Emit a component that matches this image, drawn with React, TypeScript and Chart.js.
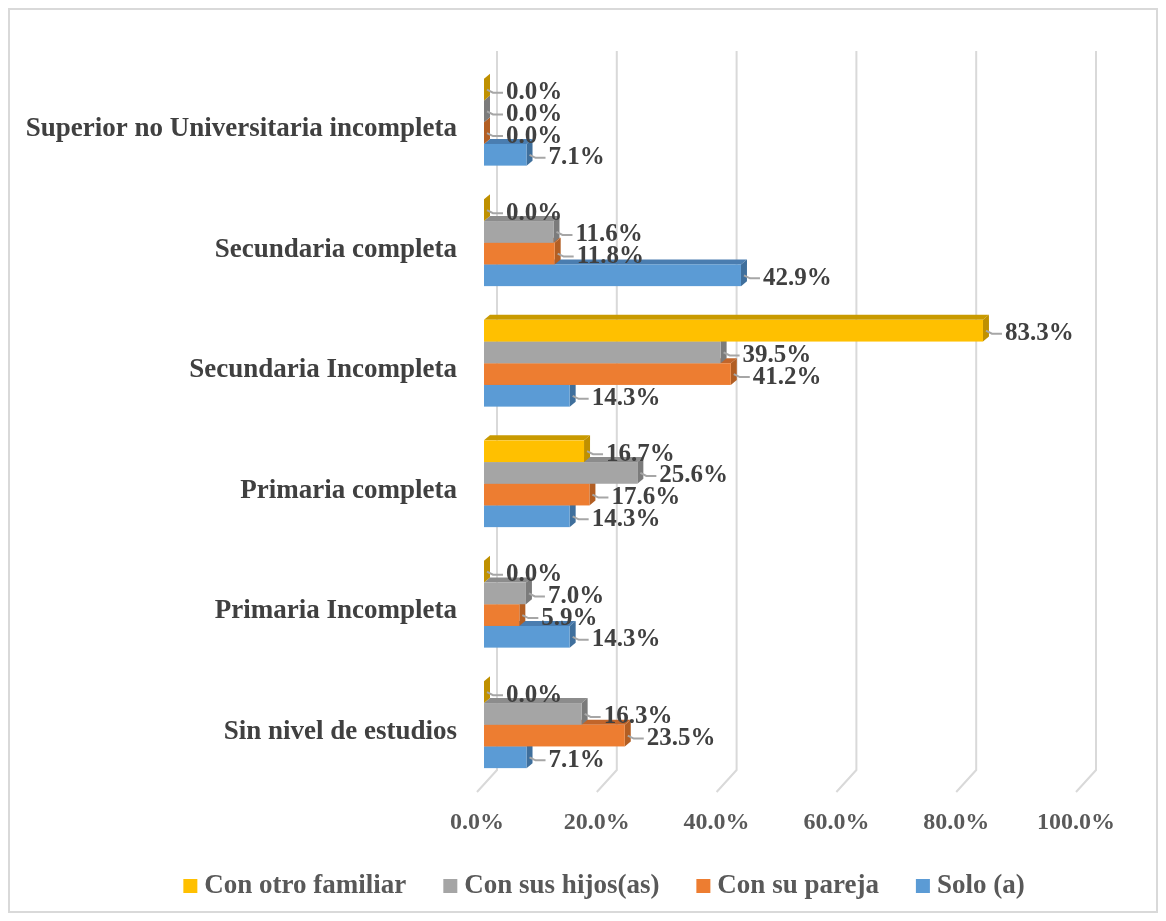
import React, { useEffect, useRef } from "react";
import { Chart, registerables } from "chart.js";

Chart.register(...registerables);

const categories = [
  "Superior no Universitaria incompleta",
  "Secundaria completa",
  "Secundaria Incompleta",
  "Primaria completa",
  "Primaria Incompleta",
  "Sin nivel de estudios",
];
const seriesNames = ["Con otro familiar", "Con sus hijos(as)", "Con su pareja", "Solo (a)"];
const otroFamiliar = [0.0, 0.0, 83.3, 16.7, 0.0, 0.0];
const hijos = [0.0, 11.6, 39.5, 25.6, 7.0, 16.3];
const pareja = [0.0, 11.8, 41.2, 17.6, 5.9, 23.5];
const solo = [7.1, 42.9, 14.3, 14.3, 14.3, 7.1];
const xTicks = [0, 20, 40, 60, 80, 100];

const frontColors = ["#FFC000", "#A5A5A5", "#ED7D31", "#5B9BD5"];
const sideColors = ["#BF9000", "#7B7B7B", "#B25E23", "#3F6F9C"];
const topColors = ["#C99A00", "#8C8C8C", "#C1652A", "#4A7DB0"];

const FONT = "'Liberation Serif', 'Times New Roman', serif";
const DX = 6;
const DY = 5;

const threeDPlugin = {
  id: "threeD",
  beforeDatasetsDraw(chart: any) {
    const ctx = chart.ctx;
    const xs = chart.scales.x;
    ctx.save();
    ctx.strokeStyle = "#d9d9d9";
    ctx.lineWidth = 2;
    for (const v of xTicks) {
      const px = xs.getPixelForValue(v);
      ctx.beginPath();
      ctx.moveTo(px + 13, 41);
      ctx.lineTo(px + 13, 760);
      ctx.lineTo(px - 7, 782);
      ctx.stroke();
    }
    ctx.restore();
  },
  afterDatasetsDraw(chart: any) {
    const ctx = chart.ctx;
    const n = chart.data.datasets.length;
    ctx.save();
    for (let i = n - 1; i >= 0; i--) {
      const meta = chart.getDatasetMeta(i);
      meta.data.forEach((el: any) => {
        const p = el.getProps(["x", "y", "base", "height"], true);
        const left = p.base;
        const right = p.x;
        const top = p.y - p.height / 2;
        const bottom = p.y + p.height / 2;
        ctx.fillStyle = topColors[i];
        ctx.beginPath();
        ctx.moveTo(left, top);
        ctx.lineTo(right, top);
        ctx.lineTo(right + DX, top - DY);
        ctx.lineTo(left + DX, top - DY);
        ctx.closePath();
        ctx.fill();
        ctx.fillStyle = sideColors[i];
        ctx.beginPath();
        ctx.moveTo(right, top);
        ctx.lineTo(right + DX, top - DY);
        ctx.lineTo(right + DX, bottom - DY);
        ctx.lineTo(right, bottom);
        ctx.closePath();
        ctx.fill();
        ctx.fillStyle = frontColors[i];
        ctx.fillRect(left, top, right - left, bottom - top);
      });
    }
    ctx.font = `bold 25px ${FONT}`;
    ctx.textBaseline = "middle";
    ctx.textAlign = "left";
    for (let i = 0; i < n; i++) {
      const meta = chart.getDatasetMeta(i);
      const values = chart.data.datasets[i].data;
      meta.data.forEach((el: any, j: number) => {
        const p = el.getProps(["x", "y", "base", "height"], true);
        const right = p.x;
        const cy = p.y;
        const lx = right + 22;
        const ly = cy + 3;
        ctx.strokeStyle = "#a6a6a6";
        ctx.lineWidth = 2;
        ctx.beginPath();
        ctx.moveTo(right + DX / 2, cy);
        ctx.lineTo(right + 9, ly);
        ctx.lineTo(lx - 3, ly);
        ctx.stroke();
        ctx.fillStyle = "#404040";
        ctx.fillText(`${Number(values[j]).toFixed(1)}%`, lx, ly);
      });
    }
    ctx.restore();
  },
  afterDraw(chart: any) {
    const ctx = chart.ctx;
    ctx.save();
    ctx.font = `bold 27px ${FONT}`;
    ctx.textBaseline = "middle";
    ctx.textAlign = "left";
    const box = 14;
    const gapBoxText = 7;
    const gapItems = 37;
    const widths = seriesNames.map((s) => ctx.measureText(s).width);
    const total =
      widths.reduce((a, b) => a + b, 0) + seriesNames.length * (box + gapBoxText) + gapItems * (seriesNames.length - 1);
    let x = 594 - total / 2;
    const y = 876;
    seriesNames.forEach((s, i) => {
      ctx.fillStyle = frontColors[i];
      ctx.fillRect(x, y - box / 2, box, box);
      x += box + gapBoxText;
      ctx.fillStyle = "#595959";
      ctx.fillText(s, x, y);
      x += widths[i] + gapItems;
    });
    ctx.restore();
  },
};

export default function App() {
  const canvasRef = useRef<HTMLCanvasElement | null>(null);

  useEffect(() => {
    if (!canvasRef.current) return;
    const seriesValues = [otroFamiliar, hijos, pareja, solo];
    const chart = new Chart(canvasRef.current, {
      type: "bar",
      data: {
        labels: categories,
        datasets: seriesNames.map((name, i) => ({
          label: name,
          data: seriesValues[i],
          backgroundColor: "rgba(0,0,0,0)",
          borderWidth: 0,
          categoryPercentage: 0.72,
          barPercentage: 1.0,
        })),
      },
      options: {
        indexAxis: "y",
        responsive: false,
        animation: false,
        devicePixelRatio: 1,
        layout: { padding: { top: 52, right: 73, left: 0, bottom: 0 } },
        plugins: {
          legend: { display: false },
          tooltip: { enabled: false },
        },
        scales: {
          x: {
            min: 0,
            max: 100,
            afterBuildTicks: (s: any) => {
              s.ticks = xTicks.map((v) => ({ value: v }));
            },
            ticks: {
              callback: (v: any) => `${Number(v).toFixed(1)}%`,
              font: { family: FONT, size: 24, weight: "bold" },
              color: "#595959",
              padding: 23,
              labelOffset: -7,
              maxRotation: 0,
              autoSkip: false,
            },
            grid: { display: false, drawTicks: false },
            border: { display: false },
            afterFit: (s: any) => {
              s.height = 126;
            },
          },
          y: {
            ticks: {
              font: { family: FONT, size: 27, weight: "bold" },
              color: "#404040",
              padding: 27,
              labelOffset: 7,
              autoSkip: false,
            },
            grid: { display: false, drawTicks: false },
            border: { display: false },
            afterFit: (s: any) => {
              s.width = 474;
            },
          },
        },
      } as any,
      plugins: [threeDPlugin],
    });
    return () => chart.destroy();
  }, []);

  return (
    <div
      style={{
        width: 1150,
        height: 905,
        border: "2px solid #d9d9d9",
        boxSizing: "border-box",
        background: "#ffffff",
      }}
    >
      <canvas ref={canvasRef} width={1146} height={901} style={{ display: "block" }} />
    </div>
  );
}
